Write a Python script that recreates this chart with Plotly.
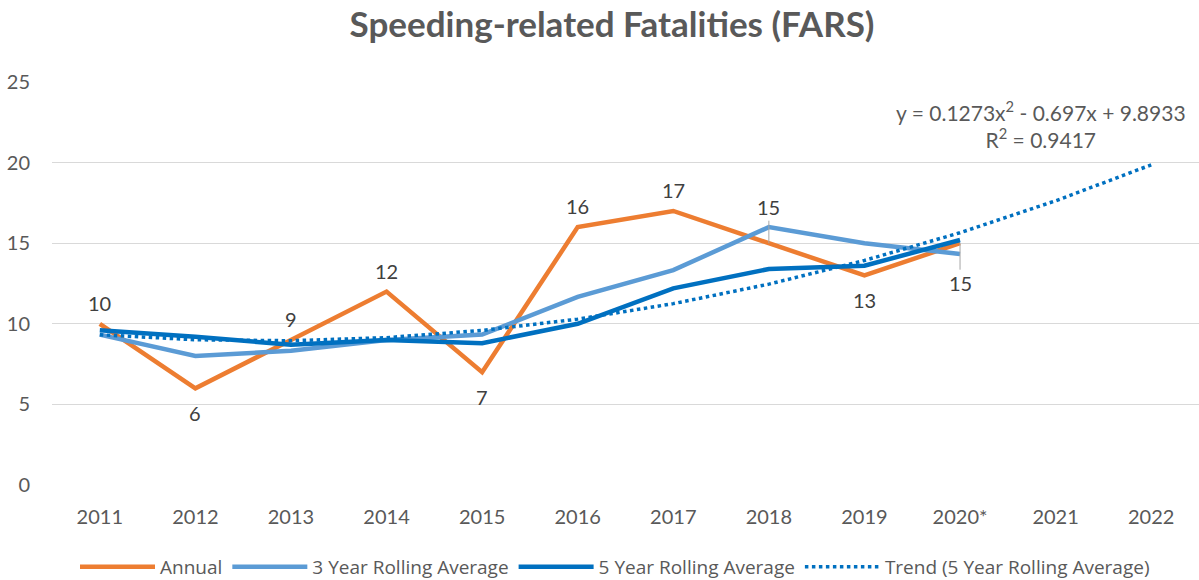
import plotly.graph_objects as go

years = ["2011", "2012", "2013", "2014", "2015", "2016", "2017", "2018", "2019", "2020*", "2021", "2022"]
annual = [10, 6, 9, 12, 7, 16, 17, 15, 13, 15]
rolling3 = [9.33, 8.0, 8.33, 9.0, 9.33, 11.67, 13.33, 16.0, 15.0, 14.33]
rolling5 = [9.6, 9.2, 8.7, 9.0, 8.8, 10.0, 12.2, 13.4, 13.6, 15.2]
trend5 = [9.32, 9.01, 8.95, 9.14, 9.59, 10.29, 11.25, 12.46, 13.93, 15.65, 17.63, 19.86]
label_pos = ["above", "below", "above", "above", "below", "above", "above", "above", "below", "below"]
equation = "y = 0.1273x<sup>2</sup> - 0.697x + 9.8933<br>R<sup>2</sup> = 0.9417"

FONT = "Lato"
GRAY = "#595959"
W, H = 1199, 580
L, R, T, B = 52, 0, 82, 95
PW, PH = W - L - R, H - T - B

fig = go.Figure()
fig.add_trace(go.Scatter(x=years[:len(annual)], y=annual, mode="lines", name="Annual",
                         line=dict(color="#ED7D31", width=4.5)))
fig.add_trace(go.Scatter(x=years[:len(rolling3)], y=rolling3, mode="lines", name="3 Year Rolling Average",
                         line=dict(color="#5B9BD5", width=4.5)))
fig.add_trace(go.Scatter(x=years[:len(rolling5)], y=rolling5, mode="lines", name="5 Year Rolling Average",
                         line=dict(color="#0070C0", width=4.5)))
fig.add_trace(go.Scatter(x=years, y=trend5, mode="lines", name="Trend (5 Year Rolling Average)",
                         line=dict(color="#0070C0", width=3.5, dash="dot")))

# data labels for the annual series (x given as category index)
for i, (yr, v, pos) in enumerate(zip(years, annual, label_pos)):
    lab_font = dict(family=FONT, size=20, color="#404040")
    if yr == "2018":
        fig.add_annotation(x=i, y=v, text=str(v), showarrow=True, arrowhead=0, arrowwidth=1,
                           arrowcolor="#A6A6A6", ax=0, ay=-36, standoff=0, font=lab_font)
    elif yr == "2020*":
        fig.add_annotation(x=i, y=v, text=str(v), showarrow=True, arrowhead=0, arrowwidth=1,
                           arrowcolor="#A6A6A6", ax=0, ay=40, standoff=0, font=lab_font)
    else:
        fig.add_annotation(x=i, y=v, text=str(v), showarrow=False,
                           yshift=21 if pos == "above" else -25, font=lab_font)

fig.add_annotation(xref="paper", yref="paper", x=(1041 - L) / PW, y=(H - B - 124) / PH,
                   xanchor="center", yanchor="middle",
                   text=equation, showarrow=False, align="center",
                   font=dict(family=FONT, size=21, color=GRAY))

fig.update_layout(
    width=W, height=H,
    margin=dict(l=L, r=R, t=T, b=B, autoexpand=False),
    paper_bgcolor="white", plot_bgcolor="white",
    title=dict(text="<b>Speeding-related Fatalities (FARS)</b>", x=612 / W, xref="container",
               xanchor="center", y=1 - 25 / H, yref="container", yanchor="middle",
               font=dict(family=FONT, size=35, color=GRAY)),
    xaxis=dict(type="category", categoryorder="array", categoryarray=years,
               range=[-0.5, len(years) - 0.5], automargin=False,
               showgrid=False, showline=False, zeroline=False, ticks="",
               tickfont=dict(family=FONT, size=20, color=GRAY), ticklabelstandoff=18),
    yaxis=dict(range=[0, 25], dtick=5, showgrid=True, gridcolor="#D9D9D9", gridwidth=1,
               zeroline=False, showline=False, ticks="", automargin=False,
               tickfont=dict(family=FONT, size=20, color=GRAY), ticklabelstandoff=21),
    legend=dict(orientation="h", x=(615 - L) / PW, xanchor="center",
                y=-(567 - (H - B)) / PH, yanchor="middle", itemwidth=75,
                font=dict(family="Open Sans", size=19, color=GRAY),
                traceorder="normal"),
    showlegend=True,
)

fig.write_html("out.html", config={"displayModeBar": False},
               post_script="document.body.style.margin='0px';")
